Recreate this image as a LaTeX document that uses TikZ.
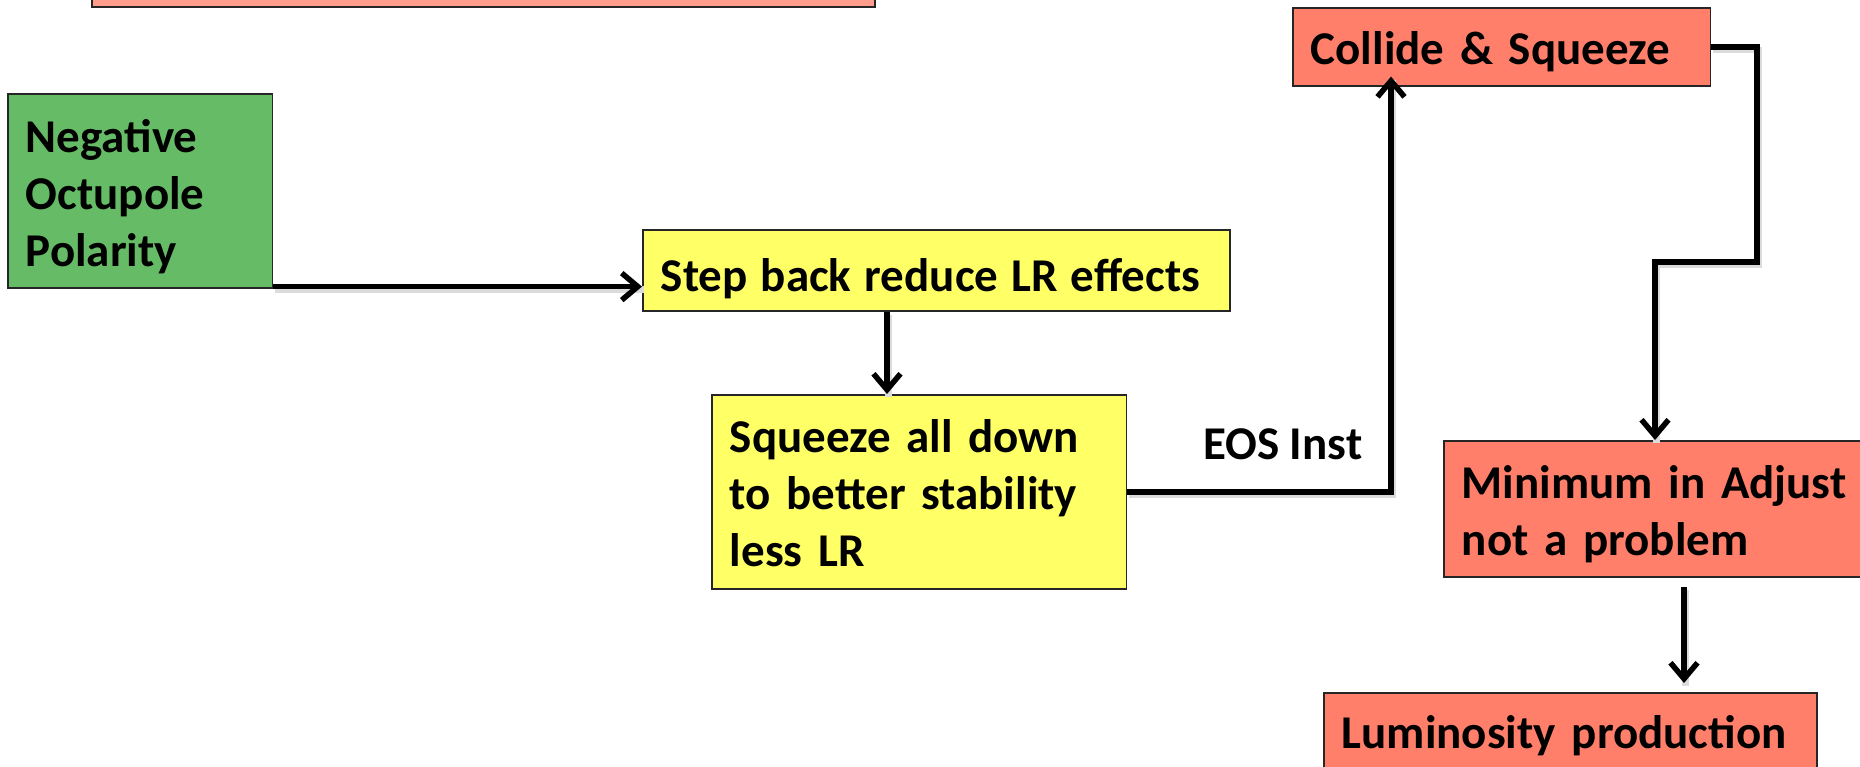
\documentclass[tikz,border=0pt]{standalone}
\usepackage{fontspec}
\setmainfont{Carlito}
\usetikzlibrary{arrows.meta}
\definecolor{boxgreen}{RGB}{102,187,102}
\definecolor{boxyellow}{RGB}{255,255,102}
\definecolor{boxsalmon}{RGB}{255,127,107}
\definecolor{boxpink}{RGB}{255,157,140}
\tikzset{
  box/.style={draw=black!85, line width=1.6pt, inner xsep=18pt, inner ysep=0pt,
    align=left, anchor=north west,
    font=\bfseries\fontsize{47}{57}\selectfont},
  labeltext/.style={inner sep=0pt, anchor=base west,
    font=\bfseries\fontsize{47}{57}\selectfont},
  arr/.style={line width=5.5pt, -{Straight Barb[length=16pt,width=27pt]},
    preaction={draw=black!14, line width=6.5pt, -, transform canvas={shift={(1.5pt,-3pt)}}}}
}
\begin{document}
\begin{tikzpicture}[x=1pt,y=-1pt]
\clip (0,0) rectangle (1860,766);
\fill[white] (0,0) rectangle (1860,766);

\node[draw=black!85, line width=1.6pt, fill=boxpink, inner sep=0pt,
  minimum width=783pt, minimum height=100pt, anchor=south west] (topbox) at (91,8) {};

\node[box, fill=boxgreen, text width=228.5pt, text height=59pt, text depth=135pt]
  (neg) at (7,93) {Negative\\Octupole\\Polarity};

\node[box, fill=boxyellow, text width=551pt, text height=61.6pt, text depth=19.4pt]
  (step) at (642,229) {\spaceskip=13.2pt plus 1pt minus 1pt Step back reduce LR effects};

\node[box, fill=boxyellow, text width=378.5pt, text height=58pt, text depth=136pt]
  (sq) at (711,394) {Squeeze all down\\to better stability\\less LR};

\node[box, fill=boxsalmon, text width=381.5pt, text height=57pt, text depth=21pt]
  (coll) at (1292,7) {Collide \& Squeeze};

\node[box, fill=boxsalmon, text width=396pt, text height=58pt, text depth=78pt]
  (mini) at (1443,440) {Minimum in Adjust\\not a problem};

\node[box, fill=boxsalmon, text width=457pt, text height=56pt, text depth=60pt]
  (lum) at (1323,692) {Luminosity production};

\node[labeltext] (eos) at (1203,459) {EOS Inst};

% connectors
\draw[arr] ([yshift=2pt]neg.south east) -- ([yshift=2pt]neg.south east -| step.west);
\draw[arr] ([xshift=245pt]step.south west) -- ([xshift=245pt]step.south west |- sq.north);
\draw[arr, shorten >=-10pt] (sq.east) -| ([xshift=99pt]coll.south west);
\coordinate (bendA) at (1757,262);
\draw[arr] (coll.east) -| (bendA) -| ([xshift=212pt]mini.north west);
\draw[arr, shorten <=9pt, shorten >=9pt] ([xshift=241pt]mini.south west)
  -- ([xshift=241pt]mini.south west |- lum.north);
\end{tikzpicture}
\end{document}
